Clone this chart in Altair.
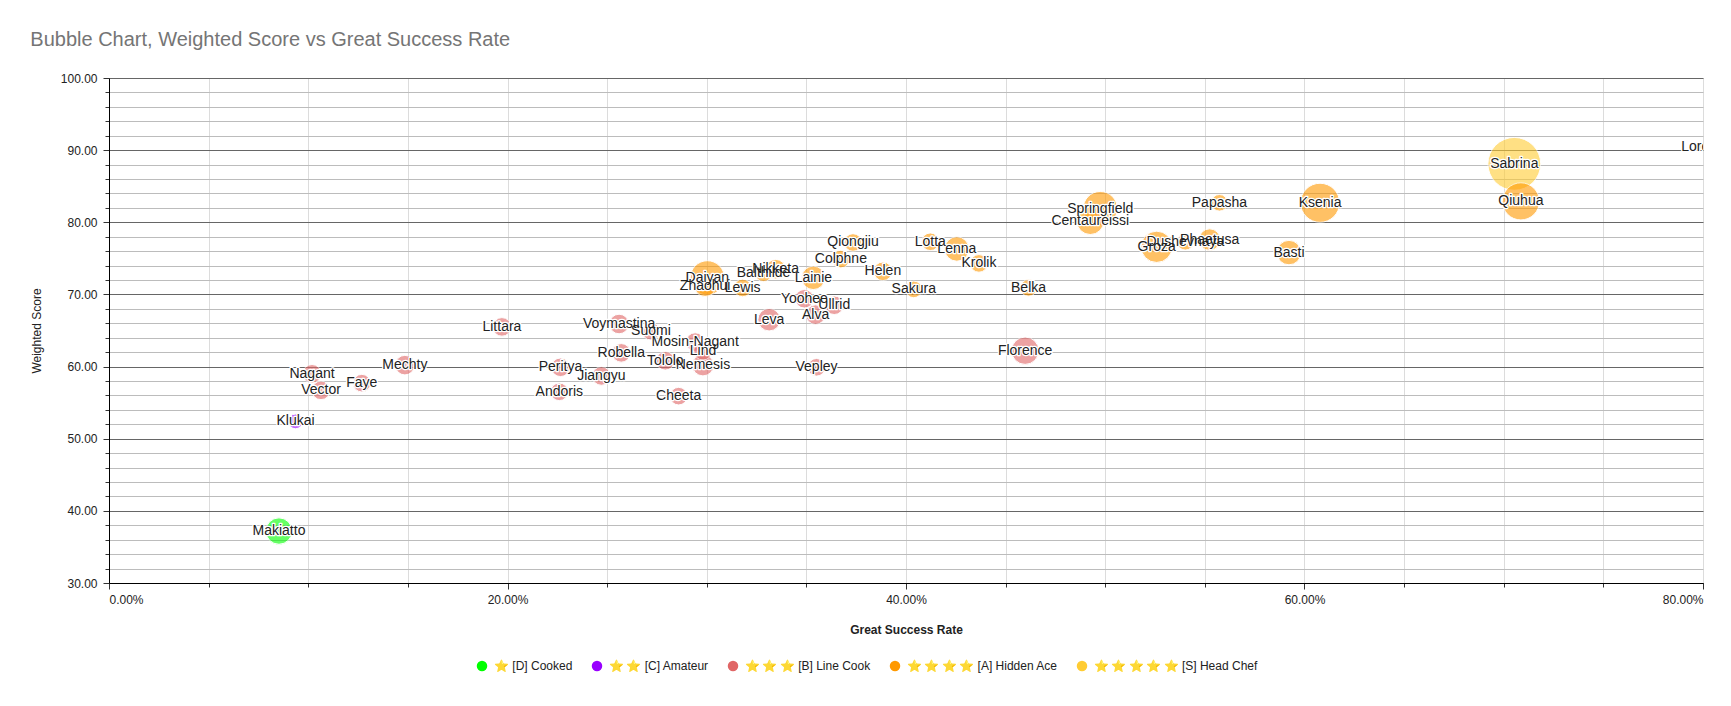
import altair as alt
import pandas as pd

names = ["Makiatto", "Klukai", "Nagant", "Vector", "Faye", "Mechty", "Littara", "Peritya",
         "Andoris", "Jiangyu", "Robella", "Voymastina", "Suomi", "Mosin-Nagant", "Lind",
         "Tololo", "Nemesis", "Cheeta", "Leva", "Alva", "Yoohee", "Ullrid", "Vepley", "Florence",
         "Daiyan", "Zhaohui", "Lewis", "Balthilde", "Nikketa", "Lainie", "Colphne", "Qiongjiu",
         "Helen", "Sakura", "Lotta", "Lenna", "Krolik", "Belka", "Springfield", "Centaureissi",
         "Groza", "Dushevnaya", "Phaetusa", "Basti", "Papasha", "Ksenia", "Qiuhua", "Sabrina",
         "Lorelei"]

success_rate = [0.0853, 0.0936, 0.1019, 0.1064, 0.1269, 0.1485, 0.1972, 0.2266,
                0.2260, 0.2471, 0.2571, 0.2560, 0.2720, 0.2942, 0.2981,
                0.2792, 0.2981, 0.2859, 0.3313, 0.3546, 0.3490, 0.3640, 0.3551, 0.4598,
                0.3003, 0.2992, 0.3180, 0.3285, 0.3346, 0.3535, 0.3673, 0.3734,
                0.3884, 0.4039, 0.4122, 0.4255, 0.4366, 0.4615, 0.4975, 0.4925,
                0.5258, 0.5402, 0.5524, 0.5922, 0.5573, 0.6078, 0.7086, 0.7053,
                0.7996]

weighted_score = [37.2, 52.4, 59.0, 56.7, 57.7, 60.2, 65.5, 59.9,
                  56.5, 58.7, 61.9, 65.9, 64.9, 63.4, 62.2,
                  60.8, 60.2, 55.9, 66.5, 67.2, 69.4, 68.5, 59.9, 62.2,
                  72.3, 71.2, 70.9, 73.0, 73.5, 72.3, 74.9, 77.2,
                  73.2, 70.7, 77.3, 76.3, 74.3, 70.9, 81.9, 80.2,
                  76.6, 77.3, 77.6, 75.8, 82.7, 82.7, 82.9, 88.1,
                  90.5]

bubble_size = [13.5, 7.5, 9.5, 9.5, 9, 10, 9.5, 9.5,
               9, 9.5, 9.5, 10, 9, 9.5, 9.5,
               9.5, 11, 9, 11.5, 10, 9.5, 9.5, 9, 14,
               17.5, 11, 9, 9, 10, 12, 9, 9,
               9.5, 8.5, 9, 12.5, 9, 8.5, 17.5, 14,
               16, 8.5, 11, 12.5, 8.5, 20, 19, 27,
               3]

tier = ["D", "C", "B", "B", "B", "B", "B", "B",
        "B", "B", "B", "B", "B", "B", "B",
        "B", "B", "B", "B", "B", "B", "B", "B", "B",
        "A", "A", "A", "A", "A", "A", "A", "A",
        "A", "A", "A", "A", "A", "A", "A", "A",
        "A", "A", "A", "A", "A", "A", "A", "S",
        "S"]

tier_codes = ["D", "C", "B", "A", "S"]
tier_labels = ["⭐ [D] Cooked",
               "⭐\u2009⭐ [C] Amateur",
               "⭐\u2009⭐\u2009⭐ [B] Line Cook",
               "⭐\u2009⭐\u2009⭐\u2009⭐ [A] Hidden Ace",
               "⭐\u2009⭐\u2009⭐\u2009⭐\u2009⭐ [S] Head Chef"]
tier_colors = ["#00ff00", "#9900ff", "#e06666", "#ff9900", "#ffcc33"]

x_minor = [0, 0.05, 0.10, 0.15, 0.20, 0.25, 0.30, 0.35, 0.40, 0.45, 0.50, 0.55,
           0.60, 0.65, 0.70, 0.75, 0.80]
x_major = [0, 0.2, 0.4, 0.6, 0.8]
y_minor = [32, 34, 36, 38, 42, 44, 46, 48, 52, 54, 56, 58, 62, 64, 66, 68,
           72, 74, 76, 78, 82, 84, 86, 88, 92, 94, 96, 98]
y_major = [30, 40, 50, 60, 70, 80, 90, 100]

label_map = dict(zip(tier_codes, tier_labels))
df = pd.DataFrame({
    "Name": names,
    "Great Success Rate": success_rate,
    "Weighted Score": weighted_score,
    "Bubble Size": bubble_size,
    "Tier": [label_map[t] for t in tier],
})

FONT = "Liberation Sans"
x_scale = alt.Scale(domain=[0, 0.8], nice=False, zero=False)
y_scale = alt.Scale(domain=[30, 100], nice=False, zero=False)

base = alt.Chart(df)

bubbles = base.mark_circle(opacity=0.6, stroke="white", strokeWidth=1, clip=True).encode(
    x=alt.X("Great Success Rate:Q", scale=x_scale,
            axis=alt.Axis(orient="bottom", values=x_minor, grid=True, gridColor="#dcdcdc",
                          labels=False, ticks=True, tickSize=4, tickColor="#333333",
                          domain=False, title=None)),
    y=alt.Y("Weighted Score:Q", scale=y_scale,
            axis=alt.Axis(orient="left", values=y_minor, grid=True, gridColor="#bcbcbc",
                          labels=False, ticks=True, tickSize=4, tickColor="#333333",
                          domain=False, title=None)),
    size=alt.Size("Bubble Size:Q",
                  scale=alt.Scale(type="pow", exponent=2, domain=[0, 27], range=[0, 2790]),
                  legend=None),
    color=alt.Color("Tier:N", scale=alt.Scale(domain=tier_labels, range=tier_colors),
                    legend=alt.Legend(orient="none", legendX=367, legendY=582,
                                      direction="horizontal", title=None,
                                      symbolType="circle", symbolSize=110,
                                      symbolOpacity=1, symbolStrokeWidth=0,
                                      labelFont=FONT, labelFontSize=12,
                                      labelColor="#222222", labelLimit=400,
                                      columnPadding=18, labelOffset=6)),
    order=alt.Order("Bubble Size:Q", sort="descending"),
)

halo = base.mark_text(font=FONT, fontSize=14, fill="white", stroke="white",
                      strokeWidth=2.5, strokeJoin="round", baseline="middle",
                      clip=True).encode(
    x=alt.X("Great Success Rate:Q", scale=x_scale,
            axis=alt.Axis(orient="bottom", values=x_major, format=".2%", grid=False,
                          tickSize=6, tickColor="#333333", domainColor="#000000",
                          labelFont=FONT, labelFontSize=12, labelColor="#222222",
                          labelPadding=5, title="Great Success Rate",
                          titleFont=FONT, titleFontSize=12, titleFontWeight="bold",
                          titleColor="#222222", titlePadding=19)),
    y=alt.Y("Weighted Score:Q", scale=y_scale,
            axis=alt.Axis(orient="left", values=y_major, format=".2f", grid=True,
                          gridColor="#666666", tickSize=6, tickColor="#333333",
                          domainColor="#000000", labelFont=FONT, labelFontSize=12,
                          labelColor="#222222", labelPadding=6, title="Weighted Score",
                          titleFont=FONT, titleFontSize=12, titleFontWeight="normal",
                          titleColor="#222222", titlePadding=17)),
    text="Name:N",
)

labels = base.mark_text(font=FONT, fontSize=14, color="#222222", baseline="middle",
                        clip=True).encode(
    x=alt.X("Great Success Rate:Q", scale=x_scale, axis=None),
    y=alt.Y("Weighted Score:Q", scale=y_scale, axis=None),
    text="Name:N",
)

chart = alt.layer(bubbles, halo, labels).resolve_axis(
    x="independent", y="independent"
).properties(
    width=1594,
    height=505,
    padding={"left": 101, "top": 70, "right": 15, "bottom": 100},
    autosize=alt.AutoSizeParams(type="none"),
    title=alt.TitleParams("Bubble Chart, Weighted Score vs Great Success Rate",
                          anchor="start", frame="bounds", font=FONT, fontSize=20,
                          fontWeight="normal", color="#757575", offset=22),
).configure_view(stroke=None).configure(background="white")

chart.save("out.html", embed_options={"renderer": "svg", "actions": False})
